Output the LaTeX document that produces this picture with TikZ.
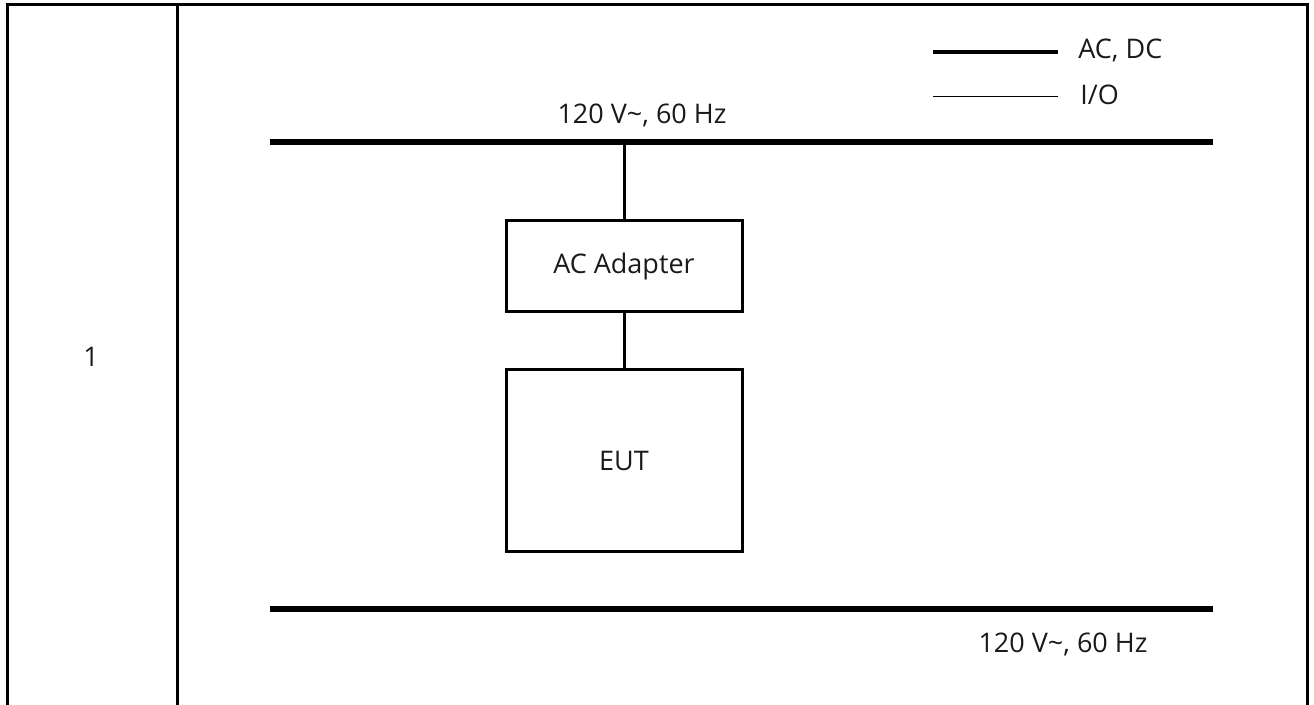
\documentclass[tikz,border=0pt]{standalone}
\usepackage{fontspec}
\setmainfont{Open Sans}
\usepackage{xcolor}
\usepackage{tikz}
\usetikzlibrary{
  arrows.meta,
  positioning,
  calc
}
\definecolor{euInk}{HTML}{000000}
\definecolor{euText}{HTML}{1A1A1A}
\tikzset{
  eunode/.style={
    draw=euInk, line width=1.5pt, font=\fontsize{13.5}{16}\selectfont,
    text=euText, align=center, inner sep=0pt
  },
  adapter/.style={eunode, minimum width=118pt, minimum height=45.5pt},
  eut/.style={eunode, minimum width=118pt, minimum height=91pt},
  tag/.style={font=\fontsize{13.5}{16}\selectfont, text=euText, inner sep=0pt},
  frameline/.style={line width=1.5pt, euInk},
  busline/.style={line width=3pt, euInk},
  power/.style={line width=1.5pt, euInk},
  keypower/.style={line width=2pt, euInk},
  keyio/.style={line width=0.5pt, euInk}
}

\begin{document}
\begin{tikzpicture}[x=0.5pt, y=-0.5pt]
  \useasboundingbox (0,0) rectangle (1314,705);
  % table frame
  \coordinate (tl) at (7,5);
  \coordinate (tr) at (1307,5);
  \draw[frameline] (7,705) -- (tl) -- (tr) -- (1307,705);
  \draw[frameline] (177,5) -- (177,705);
  \node[tag] (row) at (91,357) {1};
  % buses
  \foreach \b/\y in {top/142, bot/609}{
    \coordinate (\b W) at (270,\y);
    \coordinate (\b E) at (1213,\y);
    \draw[busline] (\b W) -- (\b E);
  }
  \node[tag] (vtop) at (642,115) {120 V\textasciitilde, 60 Hz};
  \node[tag] (vbot) at (1063,644) {120 V\textasciitilde, 60 Hz};
  % equipment
  \node[adapter] (ada) at (624,266.5) {AC Adapter};
  \node[eut] (eut) at (624,461) {EUT};
  \coordinate (tap) at (ada.north |- topW);
  \draw[power] (tap) -- (ada);
  \draw[power] (ada) -- (eut);
  % legend
  \coordinate (k1a) at (933,52);
  \coordinate (k1b) at (1058,52);
  \coordinate (k2a) at (933,97);
  \coordinate (k2b) at (1058,97);
  \draw[keypower] (k1a) -- (k1b);
  \draw[keyio] (k2a) -- (k2b);
  \node[tag, anchor=west] (kac) at (1078,50) {AC, DC};
  \node[tag, anchor=west] (kio) at (1080,95) {I/O};
\end{tikzpicture}
\end{document}
